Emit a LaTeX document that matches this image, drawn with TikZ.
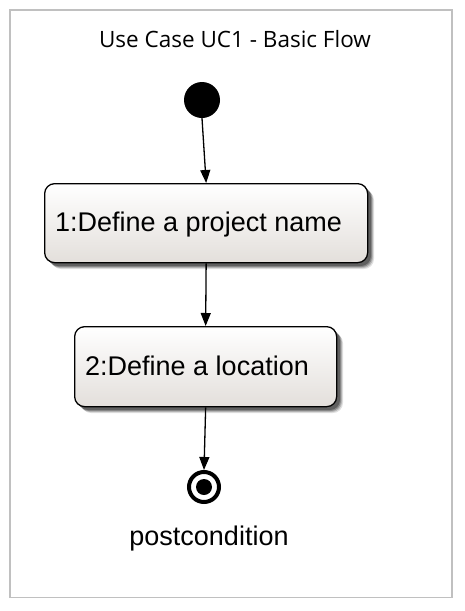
\documentclass[tikz,border=0pt]{standalone}
\usepackage{fontspec}
\setmainfont{Liberation Sans}
\newfontfamily\titlefont{Open Sans}
\usetikzlibrary{arrows.meta}
\definecolor{boxbot}{HTML}{E3DFDB}
\definecolor{framegray}{HTML}{C0C0C0}
\tikzset{
  actbox/.style={draw=black, line width=1.3pt, rounded corners=10pt, inner sep=0pt,
    top color=white, bottom color=boxbot, anchor=north west},
  boxtext/.style={anchor=west, font=\fontsize{27}{32}\selectfont, inner sep=0pt},
  flow/.style={draw=black, line width=1.3pt, -{Triangle[length=13pt,width=10pt]}},
  startnode/.style={circle, fill=black, minimum size=36pt, inner sep=0pt},
  endring/.style={circle, draw=black, line width=4pt, fill=white, minimum size=30pt, inner sep=0pt},
}
\begin{document}
\begin{tikzpicture}[x=1pt,y=-1pt]
\useasboundingbox (0,0) rectangle (465,611);
\draw[framegray, line width=1.8pt] (10,10) rectangle (452,597.5);
\node[font=\titlefont\fontsize{22.5}{26}\selectfont] (title) at (235,39) {Use Case UC1 - Basic Flow};
% shadows
\foreach \o/\op in {7/0.12,6/0.18,5/0.25,4/0.3}{
  \fill[black, opacity=\op, rounded corners=10pt] (44+\o,183+\o) rectangle (367+\o,262+\o);
  \fill[black, opacity=\op, rounded corners=10pt] (74+\o,326+\o) rectangle (336+\o,406+\o);
}
\node[actbox, minimum width=323pt, minimum height=79pt] (a1) at (44,183) {};
\node[boxtext] (t1) at (55,225) {1:Define a project name};
\node[actbox, minimum width=262pt, minimum height=80pt] (a2) at (74,326) {};
\node[boxtext] (t2) at (85,366) {2:Define a location};
\node[startnode] (init) at (202,100) {};
\node[endring] (fin) at (204,487) {};
\fill (fin.center) circle (8pt);
\node[font=\fontsize{27}{32}\selectfont] (post) at (209,539) {postcondition};
\draw[flow] (init.south) -- (a1.north);
\draw[flow] (a1.south) -- (a2.north);
\draw[flow] (a2.south) -- (fin.north);
\end{tikzpicture}
\end{document}
